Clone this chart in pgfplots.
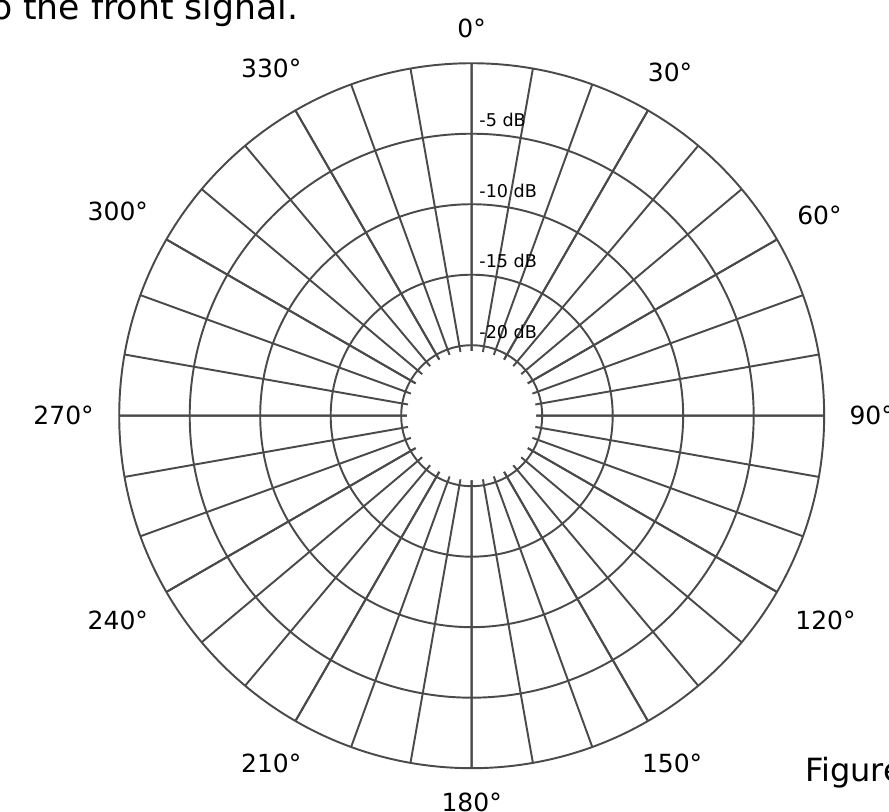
\documentclass[border=0pt]{standalone}
\usepackage{fontspec}
\setmainfont{DejaVu Sans}
\usepackage{pgfplots}
\pgfplotsset{compat=1.18}
\usepgfplotslibrary{polar}
\definecolor{gridc}{HTML}{4A4A4A}
\begin{document}
\begin{tikzpicture}
\useasboundingbox (-353.8pt,-296.5pt) rectangle (313.0pt,311.8pt);
\begin{polaraxis}[
  at={(0,0)}, anchor=center,
  scale only axis, width=528.75pt, height=528.75pt,
  xmin=0, xmax=360, ymin=0, ymax=5,
  xtick={0,30,...,330}, minor xtick={0,10,...,350},
  ytick={1,2,3,4},
  xticklabels={}, yticklabels={},
  major tick length=0pt, minor tick length=0pt,
  xmajorgrids, xminorgrids, ymajorgrids,
  major grid style={gridc, line width=1.45pt},
  minor grid style={gridc, line width=1.45pt},
  axis line style={gridc, line width=1.45pt},
  y axis line style={draw=none},
  clip=false,
  every node/.append style={inner sep=0pt},
]
\tikzset{ang/.style={font=\fontsize{18.75pt}{22pt}\selectfont, anchor=center},
         db/.style={font=\fontsize{13.2pt}{16pt}\selectfont, anchor=base west, xshift=2.25pt, yshift=5.25pt}}
\node[ang] at (axis cs:90,5.489) {0°};
\node[ang] at (axis cs:60,5.628) {30°};
\node[ang] at (axis cs:30,5.696) {60°};
\node[ang] at (axis cs:0,5.675) {90°};
\node[ang] at (axis cs:330,5.796) {120°};
\node[ang] at (axis cs:300,5.687) {150°};
\node[ang] at (axis cs:270,5.489) {180°};
\node[ang] at (axis cs:240,5.687) {210°};
\node[ang] at (axis cs:210,5.796) {240°};
\node[ang] at (axis cs:180,5.789) {270°};
\node[ang] at (axis cs:150,5.796) {300°};
\node[ang] at (axis cs:120,5.687) {330°};
\node[db] at (axis cs:90,4) {-5 dB};
\node[db] at (axis cs:90,3) {-10 dB};
\node[db] at (axis cs:90,2) {-15 dB};
\node[db] at (axis cs:90,1) {-20 dB};
\end{polaraxis}
\fill[white] (0,0) circle[radius=48.4pt];
\node[inner sep=0pt, anchor=base east, font=\fontsize{26pt}{30pt}\selectfont] at (-129.9pt,297.5pt) {relative to the front signal.};
\node[inner sep=0pt, anchor=base west, font=\fontsize{24pt}{28pt}\selectfont] at (250.0pt,-274.5pt) {Figure};
\end{tikzpicture}
\end{document}
